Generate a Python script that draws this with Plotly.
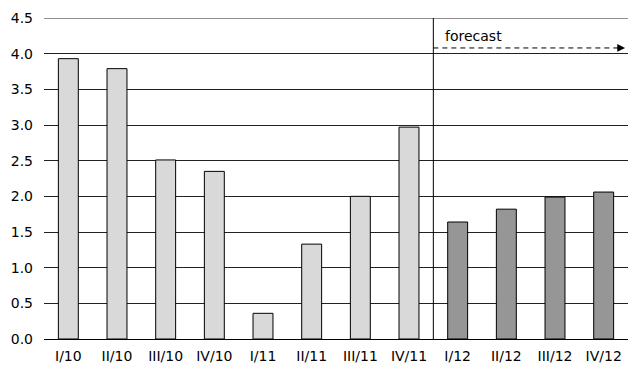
import plotly.graph_objects as go

categories = ["I/10", "II/10", "III/10", "IV/10", "I/11", "II/11", "III/11", "IV/11",
              "I/12", "II/12", "III/12", "IV/12"]
actual_values = [3.93, 3.79, 2.51, 2.35, 0.36, 1.33, 2.00, 2.97]
forecast_values = [1.64, 1.82, 1.99, 2.06]
y_ticks = [0.0, 0.5, 1.0, 1.5, 2.0, 2.5, 3.0, 3.5, 4.0, 4.5]

n_act = len(actual_values)
fig = go.Figure()
fig.add_trace(go.Bar(x=categories[:n_act], y=actual_values, width=0.41,
                     marker=dict(color="#d9d9d9", line=dict(color="#000000", width=1))))
fig.add_trace(go.Bar(x=categories[n_act:], y=forecast_values, width=0.41,
                     marker=dict(color="#969696", line=dict(color="#000000", width=1))))

# top gridline (at the axis limit)
fig.add_shape(type="line", xref="paper", yref="y", x0=0, x1=1, y0=4.5, y1=4.5,
              line=dict(color="#222222", width=1))
# separator between actual and forecast
fig.add_shape(type="line", xref="x", yref="y", x0=n_act - 0.5, x1=n_act - 0.5, y0=0, y1=4.5,
              line=dict(color="#000000", width=1))
# dashed forecast arrow
fig.add_shape(type="line", xref="x", yref="y", x0=n_act - 0.5, x1=11.31, y0=4.08, y1=4.08,
              line=dict(color="#000000", width=1, dash="5px,4px"))
fig.add_annotation(x=11.44, y=4.08, xref="x", yref="y", ax=-9, ay=0, text="",
                   showarrow=True, arrowhead=2, arrowsize=1.3, arrowwidth=1.2,
                   arrowcolor="#000000")
fig.add_annotation(x=n_act - 0.3, y=4.11, xref="x", yref="y", text="forecast", showarrow=False,
                   xanchor="left", yanchor="bottom", font=dict(size=14, color="#000000"))

fig.update_layout(
    width=628, height=372,
    margin=dict(l=44, r=0, t=18, b=33),
    paper_bgcolor="white", plot_bgcolor="white",
    showlegend=False, barmode="overlay",
    font=dict(family="DejaVu Sans, sans-serif", size=14, color="#000000"),
)
fig.update_xaxes(type="category", categoryorder="array", categoryarray=categories,
                 range=[-0.5, 11.5], showgrid=False, showline=False, ticks="",
                 ticklabelstandoff=7, tickfont=dict(size=14))
fig.update_yaxes(range=[0, 4.5], tickvals=y_ticks, ticktext=[f"{v:.1f}" for v in y_ticks],
                 showgrid=True, gridcolor="#222222", gridwidth=1, zeroline=True,
                 zerolinecolor="#000000", zerolinewidth=1, showline=False, ticks="",
                 ticklabelstandoff=10, tickfont=dict(size=14))

fig.write_html("out.html", config={"displayModeBar": False},
               post_script="document.body.style.margin='0';document.body.style.padding='0';")
